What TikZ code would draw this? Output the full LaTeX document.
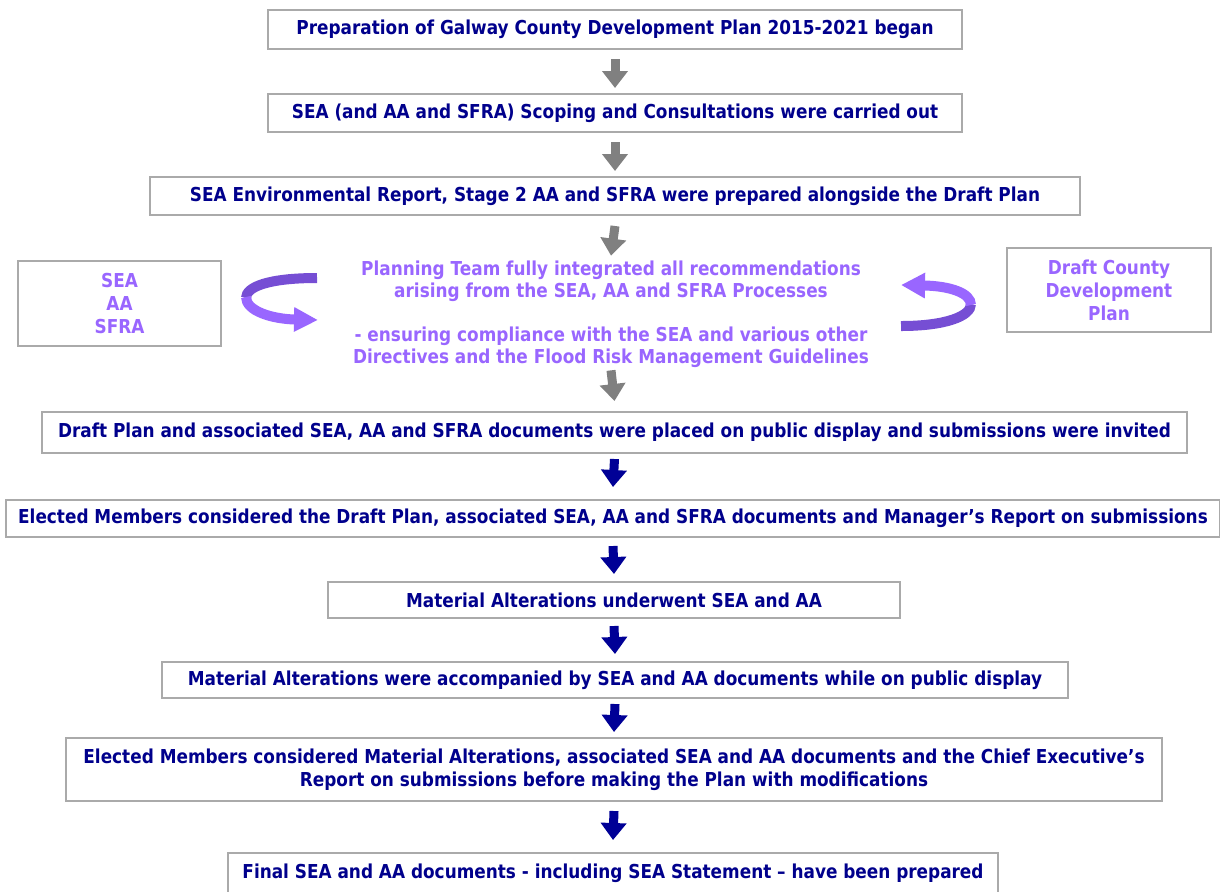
\documentclass[tikz,border=0pt]{standalone}
\usepackage{fontspec}
\setmainfont{DejaVu Sans}[FakeStretch=0.88]
\usepackage{xcolor}
\usepackage{tikz}
\usetikzlibrary{arrows.meta,positioning}
\definecolor{galwayBlue}{RGB}{0,0,140}
\definecolor{galwayPurple}{RGB}{153,102,255}
\definecolor{galwayPurpleDark}{RGB}{118,78,212}
\definecolor{boxGray}{RGB}{170,170,170}
\definecolor{arrowGray}{RGB}{128,128,128}
\definecolor{arrowBlue}{RGB}{0,0,150}
\tikzset{
  stepbox/.style={draw=boxGray, line width=1pt, text=galwayBlue, align=center, inner sep=0pt,
    font=\bfseries\fontsize{9.6}{11.5}\selectfont},
  sidebox/.style={stepbox, text=galwayPurple},
  grayarrow/.style={draw=arrowGray, line width=4.5pt, -{Triangle[length=8.5pt,width=12.5pt]}},
  bluearrow/.style={grayarrow, draw=arrowBlue},
  curl/.style={line width=5pt},
}

\begin{document}
\begin{tikzpicture}[x=0.5pt,y=-0.5pt]
\useasboundingbox (0,0) rectangle (1220,891);
% steps of the plan
\node[stepbox, minimum width=347pt, minimum height=19.5pt] (prep) at (615,29.5) {Preparation of Galway County Development Plan 2015-2021 began};
\node[stepbox, minimum width=347pt, minimum height=19pt] (scope) at (615,113) {SEA (and AA and SFRA) Scoping and Consultations were carried out};
\node[stepbox, minimum width=465pt, minimum height=19pt] (report) at (615,196) {SEA Environmental Report, Stage 2 AA and SFRA were prepared alongside the Draft Plan};
\node[stepbox, draw=none, text=galwayPurple, font=\bfseries\fontsize{9.6}{11}\selectfont] (team) at (611,314)
  {Planning Team fully integrated all recommendations\\arising from the SEA, AA and SFRA Processes\\[11pt]- ensuring compliance with the SEA and various other\\Directives and the Flood Risk Management Guidelines};
\node[sidebox, minimum width=101.5pt, minimum height=42.5pt] (sea) at (119.5,303.5) {SEA\\AA\\SFRA};
\node[sidebox, minimum width=102pt, minimum height=42pt] (draft) at (1109,290) {Draft County\\Development\\Plan};
\node[stepbox, minimum width=572.5pt, minimum height=20.5pt] (display) at (614.5,432.5) {Draft Plan and associated SEA, AA and SFRA documents were placed on public display and submissions were invited};
\node[stepbox, minimum width=607pt, minimum height=18.5pt] (members) at (613,518.5) {Elected Members considered the Draft Plan, associated SEA, AA and SFRA documents and Manager’s Report on submissions};
\node[stepbox, minimum width=286pt, minimum height=18pt] (alter) at (614,600) {Material Alterations underwent SEA and AA};
\node[stepbox, minimum width=453pt, minimum height=18pt] (accomp) at (615,680) {Material Alterations were accompanied by SEA and AA documents while on public display};
\node[stepbox, minimum width=548pt, minimum height=31.5pt] (modif) at (614,769.5) {Elected Members considered Material Alterations, associated SEA and AA documents and the Chief Executive’s\\Report on submissions before making the Plan with modifications};
\node[stepbox, minimum width=385pt, minimum height=20pt] (final) at (613,873) {Final SEA and AA documents - including SEA Statement -- have been prepared};
% connectors
\draw[grayarrow] ([yshift=-4.5pt]prep.south) -- ([yshift=2.5pt]scope.north);
\draw[grayarrow] ([yshift=-4.5pt]scope.south) -- ([yshift=2.5pt]report.north);
\draw[grayarrow] ([yshift=-5pt]report.south) -- ([yshift=2pt]team.north);
\draw[grayarrow] ([yshift=-1pt]team.south) -- ([yshift=5pt]display.north);
\draw[bluearrow] ([yshift=-2.5pt]display.south) -- ([yshift=6pt]members.north);
\draw[bluearrow] ([yshift=-4pt]members.south) -- ([yshift=3.5pt]alter.north);
\draw[bluearrow] ([yshift=-3.5pt]alter.south) -- ([yshift=3.5pt]accomp.north);
\draw[bluearrow] ([yshift=-2.5pt]accomp.south) -- ([yshift=2.5pt]modif.north);
\draw[bluearrow] ([yshift=-4.5pt]modif.south) -- ([yshift=6pt]final.north);
% curled arrows
\draw[curl, galwayPurpleDark] (317,278) .. controls (268,278) and (246,287) .. (246,298);
\draw[curl, galwayPurple, -{Triangle[length=12pt,width=11.5pt]}] (246,297) .. controls (246,311) and (272,319) .. (318,320);
\draw[curl, galwayPurpleDark] (901,326) .. controls (946,326) and (971,316) .. (971,304);
\draw[curl, galwayPurple, -{Triangle[length=12pt,width=12pt]}] (971,305) .. controls (971,293) and (950,286) .. (901,285);
\end{tikzpicture}
\end{document}
